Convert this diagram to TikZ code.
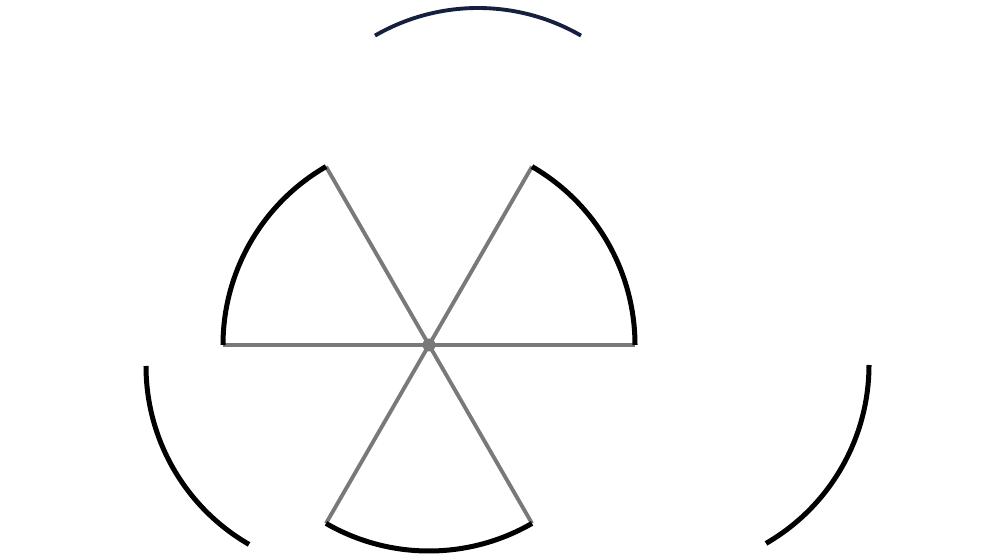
\documentclass[tikz,border=0pt]{standalone}
\usepackage{xcolor}
\usepackage{tikz}
\usetikzlibrary{calc}

\definecolor{navyline}{RGB}{22,32,62}

\begin{document}
\begin{tikzpicture}[
    rim/.style={line width=2.85pt, draw=black},
    spoke/.style={line width=2.2pt, draw=gray!95!black},
    outerrim/.style={line width=2.85pt, draw=black},
    toprim/.style={line width=2.2pt, draw=navyline},
    hub/.style={circle, fill=gray!95!black, inner sep=0pt, minimum size=0.26cm},
]
    \useasboundingbox (0,0) rectangle (20,11.2);

    \coordinate (centre) at (8.58,4.30);
    \coordinate (topc) at (9.56,6.92);
    \coordinate (leftc) at (7.04,3.88);
    \coordinate (rightc) at (13.26,3.90);

    \foreach \a in {0,120,240} {
        \coordinate (s\a) at ($(centre)+(\a:4.12)$);
        \coordinate (e\a) at ($(centre)+(\a+60:4.12)$);
        \draw[spoke] (centre) -- (s\a);
        \draw[spoke] (centre) -- (e\a);
        \draw[rim] (s\a) arc[start angle=\a, end angle=\a+60, radius=4.12];
    }
    \node[hub] (core) at (centre) {};

    \coordinate (tstart) at ($(topc)+(60:4.12)$);
    \coordinate (lstart) at ($(leftc)+(180:4.12)$);
    \coordinate (rstart) at ($(rightc)+(300:4.12)$);
    \draw[toprim] (tstart) arc[start angle=60, end angle=120, radius=4.12];
    \draw[outerrim] (lstart) arc[start angle=180, end angle=240, radius=4.12];
    \draw[outerrim] (rstart) arc[start angle=300, end angle=360, radius=4.12];
\end{tikzpicture}
\end{document}
